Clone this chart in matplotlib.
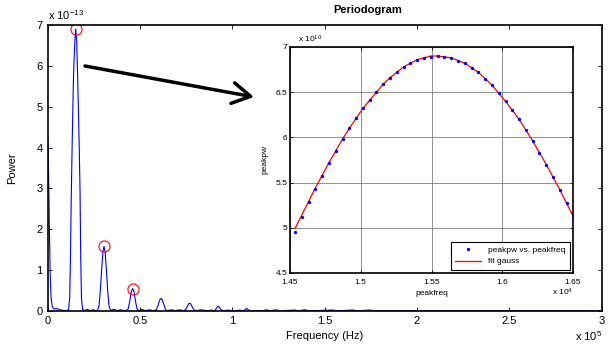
import matplotlib
matplotlib.use("Agg")
import matplotlib.pyplot as plt

plt.rcParams["font.family"] = ["Liberation Sans", "DejaVu Sans"]
plt.rcParams["mathtext.default"] = "regular"

# periodogram (frequency in Hz, power in units of 1e-13)
freq_hz = [
    0, 400, 800, 1300, 1800, 2500, 3500, 5000, 6500, 8000, 10000,
    11300, 11900, 12300, 12700, 13300, 14000, 14700, 15200, 15700, 16300,
    17000, 17500, 17900, 18300, 18900, 20000,
    21500, 23000, 24500, 26000,
    27000, 27800, 28500, 29200, 29900, 30500, 31100, 31800, 32500, 33200, 34000,
    36000, 37500, 39500, 41500, 42800,
    43600, 44500, 45300, 46000, 46700, 47500, 48400, 49200,
    51000, 53000, 55000, 57000, 58200,
    59000, 60000, 60800, 61400, 62000, 62800, 63800, 64800,
    67000, 69000, 71500, 73500,
    74600, 75600, 76400, 76900, 77400, 78200, 79200, 80200,
    83000, 86000, 89000, 90500,
    91000, 91800, 92300, 92800, 93700, 94800,
    98000, 101000, 104000, 106000,
    106800, 107700, 108600, 109800,
    113000, 116000, 118500, 120500, 123500, 126000, 133800, 136000,
    139000, 142000, 154500, 157000, 165000, 168000, 174500, 177000, 300000,
]
power = [
    4.2, 3.6, 2.4, 1.0, 0.35, 0.1, 0.05, 0.06, 0.03, 0.02, 0.01,
    0.03, 0.3, 1.2, 2.6, 4.2, 5.8, 6.6, 6.9, 6.6, 5.6,
    4.2, 3.0, 1.3, 0.3, 0.04, 0.01,
    0.04, 0.01, 0.03, 0.01,
    0.02, 0.12, 0.5, 1.0, 1.45, 1.58, 1.45, 1.0, 0.5, 0.12, 0.02,
    0.04, 0.01, 0.03, 0.01, 0.02,
    0.05, 0.25, 0.48, 0.55, 0.48, 0.25, 0.05, 0.01,
    0.04, 0.01, 0.03, 0.01, 0.02,
    0.04, 0.17, 0.28, 0.31, 0.28, 0.17, 0.04, 0.01,
    0.03, 0.01, 0.03, 0.01,
    0.03, 0.11, 0.18, 0.19, 0.18, 0.11, 0.03, 0.01,
    0.03, 0.01, 0.02, 0.01,
    0.04, 0.10, 0.12, 0.10, 0.04, 0.01,
    0.02, 0.005, 0.02, 0.01,
    0.03, 0.066, 0.03, 0.005,
    0.01, 0.005, 0.03, 0.005, 0.03, 0.005, 0.025, 0.005,
    0.03, 0.005, 0.025, 0.005, 0.025, 0.005, 0.025, 0.005, 0.005,
]

# detected peaks
peak_freq_hz = [15200, 30500, 46000]
peak_power = [6.9, 1.58, 0.55]

# zoom on main peak (freq in Hz, power in units of 1e10)
peakfreq = [
    14535, 14583, 14631, 14679, 14727, 14775, 14823, 14871, 14919, 14967,
    15015, 15063, 15111, 15159, 15207, 15255, 15303, 15351, 15399, 15447,
    15495, 15543, 15591, 15639, 15687, 15735, 15783, 15831, 15879, 15927,
    15975, 16023, 16071, 16119, 16167, 16215, 16263, 16311, 16359, 16407,
    16455, 16503,
]
peakpw = [
    4.95, 5.12, 5.28, 5.43, 5.57, 5.72, 5.85, 5.98, 6.10, 6.21,
    6.32, 6.41, 6.50, 6.59, 6.66, 6.72, 6.78, 6.82, 6.86, 6.88,
    6.89, 6.90, 6.89, 6.88, 6.85, 6.82, 6.77, 6.72, 6.65, 6.58,
    6.49, 6.40, 6.30, 6.20, 6.08, 5.96, 5.83, 5.70, 5.56, 5.42,
    5.27, 5.11,
]
fitpw = [
    4.99, 5.14, 5.29, 5.44, 5.58, 5.72, 5.85, 5.98, 6.10, 6.21,
    6.32, 6.41, 6.50, 6.59, 6.66, 6.72, 6.78, 6.82, 6.86, 6.88,
    6.90, 6.90, 6.89, 6.88, 6.85, 6.82, 6.77, 6.72, 6.65, 6.58,
    6.49, 6.40, 6.30, 6.20, 6.08, 5.96, 5.83, 5.70, 5.56, 5.42,
    5.27, 5.12,
]

fig = plt.figure(figsize=(6.09, 3.47), dpi=100)

# main periodogram
ax = fig.add_axes([0.0783, 0.1037, 0.9097, 0.8242])
ax.plot([f / 1e5 for f in freq_hz], power, color="#0000ff", lw=0.8)
ax.plot([f / 1e5 for f in peak_freq_hz], peak_power, "o", mfc="none",
        mec="red", ms=8, mew=0.8)
ax.set_xlim(0, 3)
ax.set_ylim(0, 7)
ax.set_xticks([0, 0.5, 1, 1.5, 2, 2.5, 3])
ax.set_xticklabels(["0", "0.5", "1", "1.5", "2", "2.5", "3"])
ax.set_yticks(range(8))
ax.tick_params(direction="in", top=True, right=True, length=3,
               labelsize=8, width=0.6)
for s in ax.spines.values():
    s.set_linewidth(1.2)
ax.set_xlabel("Frequency (Hz)", fontsize=8, labelpad=4)
ax.set_ylabel("Power", fontsize=8, labelpad=14)
ax.text(0.0, 1.01, r"x 10$^{-13}$", transform=ax.transAxes,
        fontsize=8, ha="left", va="bottom")
ax.text(1.0, -0.087, r"x 10$^{5}$", transform=ax.transAxes,
        fontsize=8, ha="right", va="center")

fig.text(368 / 609, 1 - 10 / 347, "Periodogram", fontsize=8,
         fontweight="bold", ha="center", va="center")

# inset with gauss fit
ins = fig.add_axes([0.4762, 0.2133, 0.4647, 0.6513])
ins.set_facecolor("white")
ins.plot([f / 1e4 for f in peakfreq], peakpw, "o", color="#0000ff",
         ms=2.4, mew=0, label="peakpw vs. peakfreq", zorder=3)
ins.plot([f / 1e4 for f in peakfreq], fitpw, color="red", lw=0.9,
         label="fit gauss", zorder=2)
ins.set_xlim(1.45, 1.65)
ins.set_ylim(4.5, 7)
ins.set_xticks([1.45, 1.5, 1.55, 1.6, 1.65])
ins.set_xticklabels(["1.45", "1.5", "1.55", "1.6", "1.65"])
ins.set_yticks([4.5, 5, 5.5, 6, 6.5, 7])
ins.set_yticklabels(["4.5", "5", "5.5", "6", "6.5", "7"])
ins.grid(True, color="#808080", lw=0.6)
ins.tick_params(direction="in", top=True, right=True, length=2.5,
                labelsize=6, width=0.6)
ins.tick_params(axis="x", pad=4.5)
ins.tick_params(axis="y", pad=2)
for s in ins.spines.values():
    s.set_linewidth(1.2)
ins.set_xlabel("peakfreq", fontsize=6, labelpad=3)
ins.set_ylabel("peakpw", fontsize=6, labelpad=5)
ins.text(0.028, 1.01, r"x 10$^{10}$", transform=ins.transAxes,
         fontsize=6, ha="left", va="bottom")
ins.text(1.0, -0.085, r"x 10$^{4}$", transform=ins.transAxes,
         fontsize=6, ha="right", va="center")
leg = ins.legend(loc="lower right", fontsize=6, fancybox=False,
                 framealpha=1, edgecolor="black", handlelength=3.2,
                 borderaxespad=0.4, borderpad=0.5, labelspacing=0.4)
leg.get_frame().set_linewidth(0.8)

# arrow from main peak to inset
ax.annotate("", xy=(254, 250), xytext=(85, 281),
            xycoords="figure pixels", textcoords="figure pixels",
            arrowprops=dict(arrowstyle="->,head_length=1.3,head_width=0.75",
                            lw=2.5, color="black", shrinkA=0, shrinkB=0))

fig.savefig("out.png", dpi=100)
